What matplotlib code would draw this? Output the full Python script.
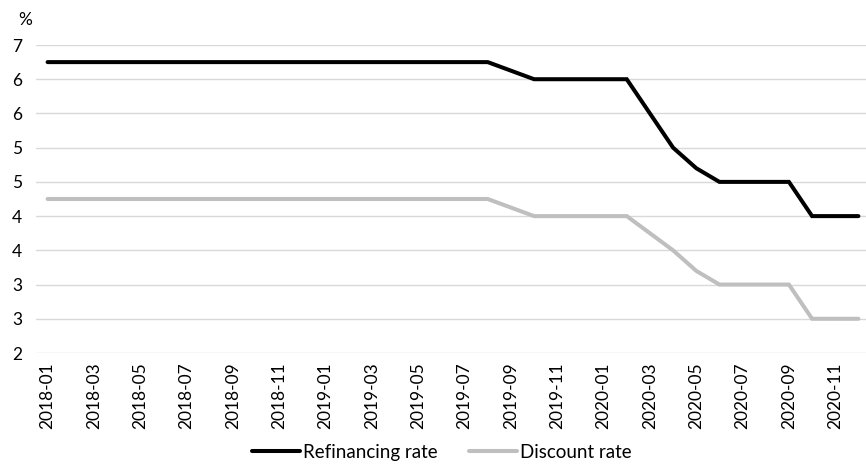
import matplotlib
matplotlib.use("Agg")
import matplotlib.pyplot as plt
from matplotlib.ticker import FixedLocator, FuncFormatter
import math

months = [f"{y}-{m:02d}" for y in (2018, 2019, 2020) for m in range(1, 13)]
refinancing = [6.25]*20 + [6.125] + [6.0]*5 + [5.5, 5.0, 4.7] + [4.5]*4 + [4.0]*3
discount = [4.25]*20 + [4.125] + [4.0]*5 + [3.75, 3.5, 3.2] + [3.0]*4 + [2.5]*3
yticks = [2.0, 2.5, 3.0, 3.5, 4.0, 4.5, 5.0, 5.5, 6.0, 6.5]

plt.rcParams['font.family'] = ['Lato', 'DejaVu Sans']

fig = plt.figure(figsize=(8.66, 4.65), dpi=100)
W, H = 866, 465
left, right, top, bottom = 36, 870, 45, 353
ax = fig.add_axes([left / W, 1 - bottom / H, (right - left) / W, (bottom - top) / H])

x = list(range(len(months)))
ax.plot(x, refinancing, color='black', lw=2.9, solid_capstyle='round', solid_joinstyle='miter', label='Refinancing rate', zorder=3)
ax.plot(x, discount, color='#bfbfbf', lw=2.9, solid_capstyle='round', solid_joinstyle='miter', label='Discount rate', zorder=3)

ax.set_xlim(-0.5, len(months) - 0.5)
ax.set_ylim(2.0, 6.5)
ax.yaxis.set_major_locator(FixedLocator(yticks))
ax.yaxis.set_major_formatter(FuncFormatter(lambda v, p: str(int(math.floor(v + 0.5)))))
ax.set_xticks(x[::2])
ax.set_xticklabels(months[::2], rotation=90, fontsize=12.5)
ax.tick_params(axis='y', length=0, pad=10, labelsize=12.5)
ax.tick_params(axis='x', length=0, pad=6.5)
for s in ax.spines.values():
    s.set_visible(False)
ax.grid(axis='y', color='#d9d9d9', lw=1)
ax.set_axisbelow(True)

fig.text(18 / W, 1 - 20 / H, '%', fontsize=12.5, ha='left', va='center')

fig.legend(loc='center', bbox_to_anchor=(442 / W, 1 - 452 / H), ncol=2, frameon=False,
           fontsize=13.5, handlelength=2.56, handletextpad=0.16, columnspacing=1.7)

fig.savefig('out.png', dpi=100)
